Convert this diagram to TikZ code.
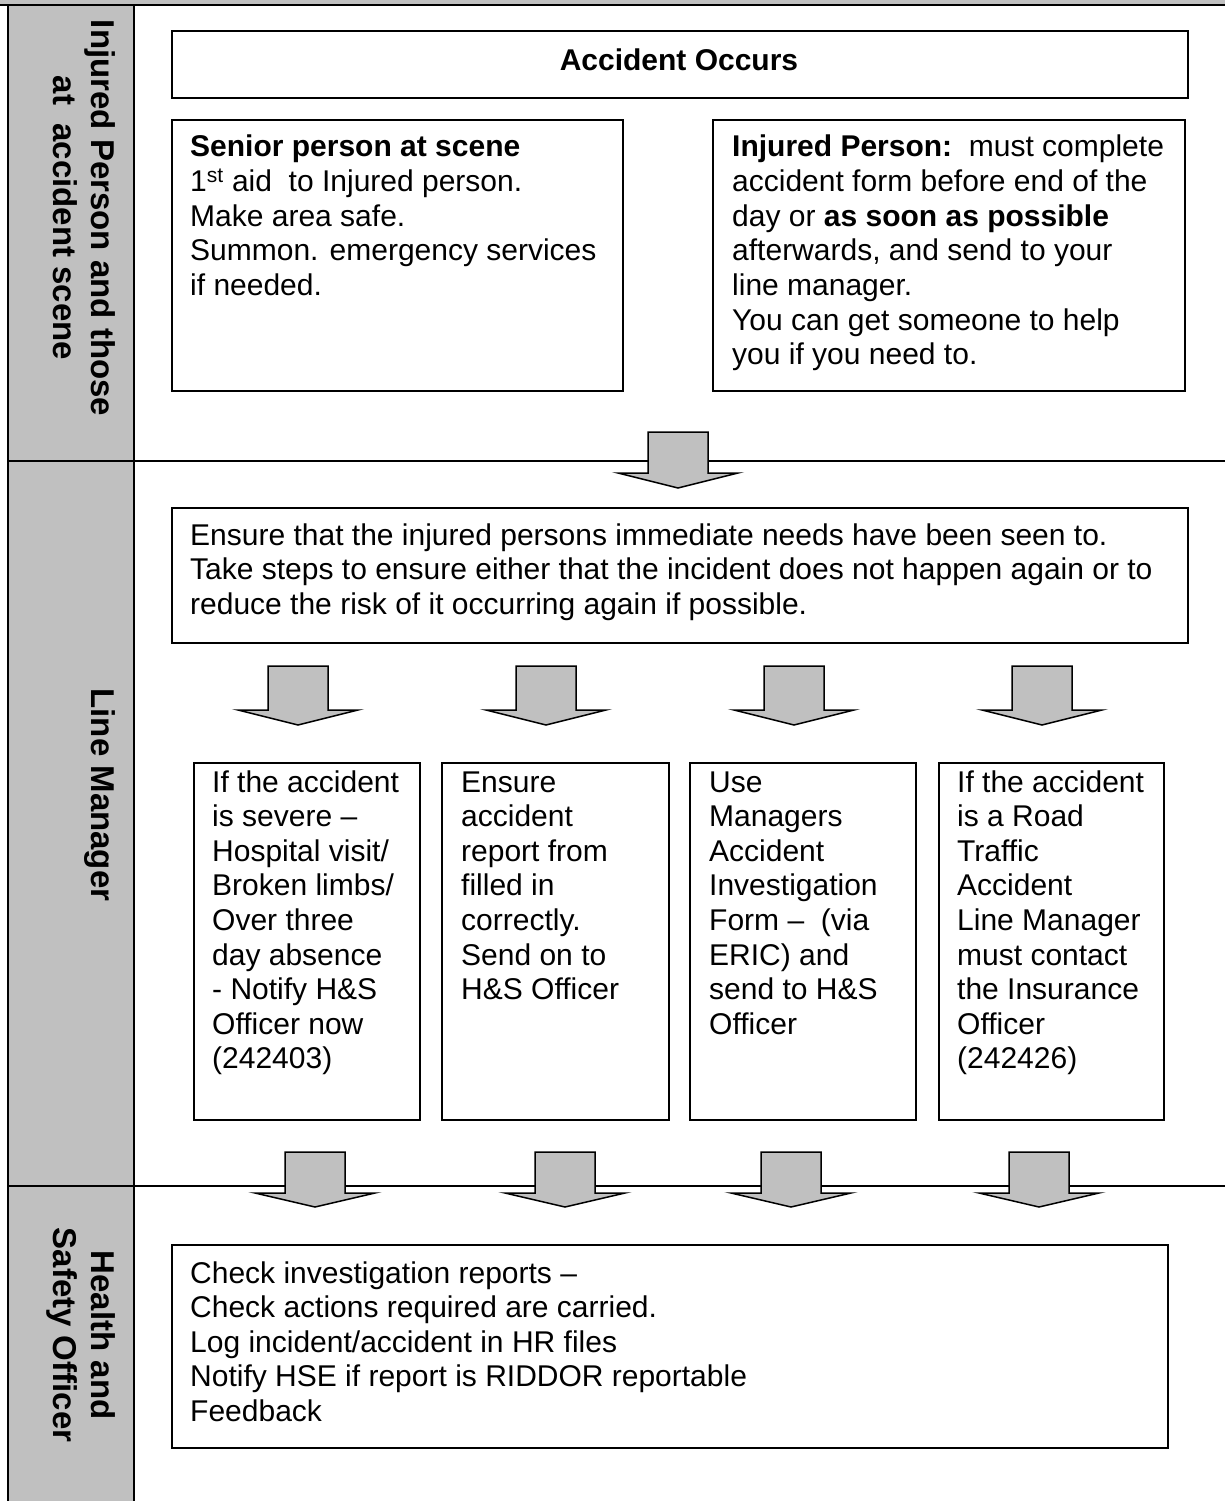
\documentclass[tikz,border=0pt]{standalone}
\usepackage{fontspec}
\setmainfont{Liberation Sans}
\definecolor{colgray}{HTML}{C0C0C0}
\newcommand{\blockarr}[4]{%
  \draw[arrowst] ({#1-30},#2) -- ({#1+30},#2) -- ({#1+30},#3) -- ({#1+60},#3) -- (#1,#4) -- ({#1-60},#3) -- ({#1-30},#3) -- cycle;}
\begin{document}
\begin{tikzpicture}[x=1pt,y=-1pt,
  boxst/.style={draw=black, line width=1.6pt, inner sep=0pt, anchor=north west},
  txt/.style={anchor=base west, inner sep=0pt, font=\fontsize{30}{34.6}\selectfont},
  arrowst/.style={draw=black, line width=1.5pt, fill=colgray, line join=miter},
  lab/.style={inner sep=0pt, rotate=-90, font=\fontsize{33}{38}\selectfont\bfseries}]
\useasboundingbox (0,0) rectangle (1225,1501);
% lane backgrounds and lines
\fill[colgray] (0,0) rectangle (1225,5);
\fill[colgray] (8,5) rectangle (134,1501);
\draw[line width=2pt] (0,5) -- (1225,5);
\draw[line width=2pt] (8,5) -- (8,1501);
\draw[line width=2pt] (134,5) -- (134,1501);
\draw[line width=1.3pt] (8,461) -- (1225,461);
\draw[line width=1.3pt] (8,1186) -- (1225,1186);
% lane labels
\node[lab] (l1) at (80,218) {\begin{tabular}{@{}c@{}}Injured Person and those\\ at\ \ accident scene\end{tabular}};
\node[lab] (l2) at (100,795) {Line Manager};
\node[lab] (l3) at (80,1335) {\begin{tabular}{@{}c@{}}Health and\\ Safety Officer\end{tabular}};
% row 1
\node[boxst, minimum width=1016pt, minimum height=67pt] (occ) at (171,30) {};
\node[anchor=base, inner sep=0pt, font=\fontsize{30}{34.6}\selectfont\bfseries] (occt) at (679,71) {Accident Occurs};
\node[boxst, minimum width=451pt, minimum height=271pt] (sen) at (171,119) {};
\node[txt] (sent) at (190,157) {\begin{tabular}[t]{@{}l@{}}\textbf{Senior person at scene}\\ 1\textsuperscript{st} aid\ \ to Injured person.\\ Make area safe.\\ Summon. emergency services\\ if needed.\end{tabular}};
\node[boxst, minimum width=472pt, minimum height=271pt] (inj) at (712,119) {};
\node[txt] (injt) at (732,157) {\begin{tabular}[t]{@{}l@{}}\textbf{Injured Person:}\ \ must complete\\ accident form before end of the\\ day or \textbf{as soon as possible}\\ afterwards, and send to your\\ line manager.\\ You can get someone to help\\ you if you need to.\end{tabular}};
\blockarr{678}{432}{473}{488}
% row 2
\node[boxst, minimum width=1016pt, minimum height=135pt] (ens) at (171,507) {};
\node[txt] (enst) at (190,545) {\begin{tabular}[t]{@{}l@{}}Ensure that the injured persons immediate needs have been seen to.\\ Take steps to ensure either that the incident does not happen again or to\\ reduce the risk of it occurring again if possible.\end{tabular}};
\blockarr{298}{666}{710}{725}
\blockarr{546}{666}{710}{725}
\blockarr{794}{666}{710}{725}
\blockarr{1042}{666}{710}{725}
\node[boxst, minimum width=226pt, minimum height=357pt] (b1) at (193,762) {};
\node[boxst, minimum width=227pt, minimum height=357pt] (b2) at (441,762) {};
\node[boxst, minimum width=226pt, minimum height=357pt] (b3) at (689,762) {};
\node[boxst, minimum width=225pt, minimum height=357pt] (b4) at (938,762) {};
\node[txt] (b1t) at (212,792) {\begin{tabular}[t]{@{}l@{}}If the accident\\ is severe --\\ Hospital visit/\\ Broken limbs/\\ Over three\\ day absence\\ - Notify H\&S\\ Officer now\\ (242403)\end{tabular}};
\node[txt] (b2t) at (461,792) {\begin{tabular}[t]{@{}l@{}}Ensure\\ accident\\ report from\\ filled in\\ correctly.\\ Send on to\\ H\&S Officer\end{tabular}};
\node[txt] (b3t) at (709,792) {\begin{tabular}[t]{@{}l@{}}Use\\ Managers\\ Accident\\ Investigation\\ Form --\ \ (via\\ ERIC) and\\ send to H\&S\\ Officer\end{tabular}};
\node[txt] (b4t) at (957,792) {\begin{tabular}[t]{@{}l@{}}If the accident\\ is a Road\\ Traffic\\ Accident\\ Line Manager\\ must contact\\ the Insurance\\ Officer\\ (242426)\end{tabular}};
\blockarr{315}{1152}{1193}{1207}
\blockarr{565}{1152}{1193}{1207}
\blockarr{791}{1152}{1193}{1207}
\blockarr{1039}{1152}{1193}{1207}
% row 3
\node[boxst, minimum width=996pt, minimum height=203pt] (hs) at (171,1244) {};
\node[txt] (hst) at (190,1283) {\begin{tabular}[t]{@{}l@{}}Check investigation reports --\\ Check actions required are carried.\\ Log incident/accident in HR files\\ Notify HSE if report is RIDDOR reportable\\ Feedback\end{tabular}};
\end{tikzpicture}
\end{document}
